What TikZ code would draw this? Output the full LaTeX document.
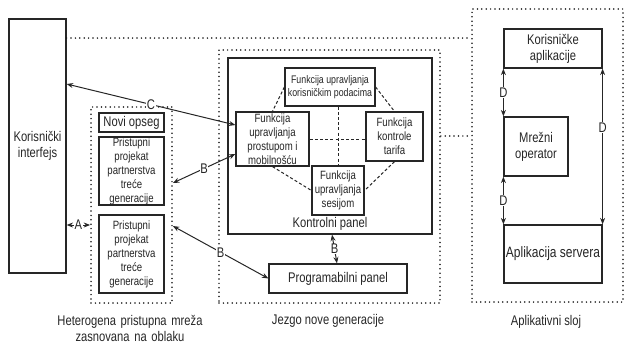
\documentclass[tikz,border=0pt]{standalone}
\usepackage{fontspec}
\setmainfont{Liberation Sans}[FakeStretch=0.8]
\usetikzlibrary{arrows.meta}
\newcommand\fsA{\fontsize{14}{16}\selectfont}
\newcommand\fsB{\fontsize{12}{14}\selectfont}
\newcommand\fsC{\fontsize{11}{12.5}\selectfont}
\newcommand\fsD{\fontsize{15}{16.5}\selectfont}
\tikzset{
  box/.style={draw=black!85, line width=1.2pt, fill=white, inner sep=0pt, align=center, text=black!85},
  cont/.style={draw=black!90, line width=1.7pt, dash pattern=on 0pt off 4.4pt, line cap=round, inner sep=0pt},
  dline/.style={draw=black!85, line width=1pt, dash pattern=on 3pt off 2.2pt},
  conn/.style={draw=black!85, line width=1pt, {Stealth[length=6.5pt,width=5pt]}-{Stealth[length=6.5pt,width=5pt]}},
  lbl/.style={fill=white, inner sep=0.6pt, font=\fsA, text=black!85},
  captxt/.style={font=\fsA, text=black!85, align=center},
}
\begin{document}
\begin{tikzpicture}[x=1pt,y=-1pt]
\useasboundingbox (0,0) rectangle (625,343);
% containers
\node[cont, minimum width=81pt, minimum height=196pt] (het) at (131.5,205) {};
\node[cont, minimum width=221pt, minimum height=253pt] (jez) at (329.5,176.5) {};
\node[cont, minimum width=151pt, minimum height=293pt] (apl) at (547.5,155.5) {};
% left
\node[box, font=\fsA, minimum width=57pt, minimum height=254pt] (ki) at (37.5,146) {Korisnički\\interfejs};
\node[box, font=\fsA, minimum width=65pt, minimum height=19pt] (no) at (131.5,122.5) {Novi opseg};
\node[box, font=\fsB, minimum width=65pt, minimum height=68pt] (pr1) at (131.5,171) {Pristupni\\projekat\\partnerstva\\treće\\generacije};
\node[box, font=\fsB, minimum width=65pt, minimum height=78pt] (pr2) at (131.5,254) {Pristupni\\projekat\\partnerstva\\treće\\generacije};
% core
\node[box, minimum width=204pt, minimum height=176pt] (kon) at (330,146) {};
\node[captxt, anchor=south] (konl) at ([yshift=1pt]kon.south) {Kontrolni panel};
\node[box, font=\fsC, minimum width=90pt, minimum height=38pt] (kp) at (330,87) {Funkcija upravljanja\\korisničkim podacima};
\node[box, font=\fsB, minimum width=73pt, minimum height=54pt] (pm) at (272.5,139) {Funkcija\\upravljanja\\prostupom i\\mobilnošću};
\node[box, font=\fsB, minimum width=57pt, minimum height=49pt] (tar) at (394.5,136.5) {Funkcija\\kontrole\\tarifa};
\node[box, font=\fsB, minimum width=52pt, minimum height=49pt] (ses) at (338,190.5) {Funkcija\\upravljanja\\sesijom};
\node[box, font=\fsA, minimum width=138pt, minimum height=29pt] (pp) at (338,278.5) {Programabilni panel};
% application layer
\node[box, font=\fsA, minimum width=98pt, minimum height=39pt] (ka) at (553,48.5) {Korisničke\\aplikacije};
\node[box, font=\fsA, minimum width=64pt, minimum height=59pt] (mo) at (536,146.5) {Mrežni\\operator};
\node[box, font=\fsD, minimum width=98pt, minimum height=58pt] (as) at (553,254) {Aplikacija servera};
% dotted links between layers
\draw[cont] (ki.east |- 0,38) -- (apl.west |- 0,38);
\draw[cont] (jez.east |- 0,136) -- (apl.west |- 0,136);
% dashed internal links
\draw[dline] (kp.west) -- (pm.north);
\draw[dline] (kp.east) -- (tar.north);
\draw[dline] (ses.north |- kp.south) -- (ses.north);
\draw[dline] (pm.east) -- (tar.west |- pm.east);
\draw[dline] (pm.south) -- (ses.west);
\draw[dline] (tar.south) -- (ses.east);
% connectors
\draw[conn] (ki.east |- 0,84) -- node[lbl] {C} (pm.west |- 0,125);
\draw[conn] (het.east |- 0,183) -- node[lbl] {B} (pm.west |- 0,154);
\draw[conn] (het.east |- 0,226) -- node[lbl] {B} (pp.west);
\draw[conn] (ki.east |- 0,225) -- node[lbl] {A} (het.west |- 0,225);
\draw[conn] ([xshift=2pt]kon.south) -- node[lbl] {B} ([xshift=-1pt]pp.north);
\draw[conn] (mo.north west |- ka.south) -- node[lbl] {D} (mo.north west);
\draw[conn] (mo.south west) -- node[lbl] {D} (mo.south west |- as.north);
\draw[conn] (ka.south east) -- node[lbl, pos=0.38] {D} (as.north east);
% captions
\node[captxt, text width=200pt] (hcap) at (130,328) {\baselineskip=16pt Heterogena pristupna mreža\\zasnovana na oblaku};
\node[captxt] (jcap) at (328,321) {Jezgo nove generacije};
\node[captxt] (acap) at (546,322) {Aplikativni sloj};
\end{tikzpicture}
\end{document}
